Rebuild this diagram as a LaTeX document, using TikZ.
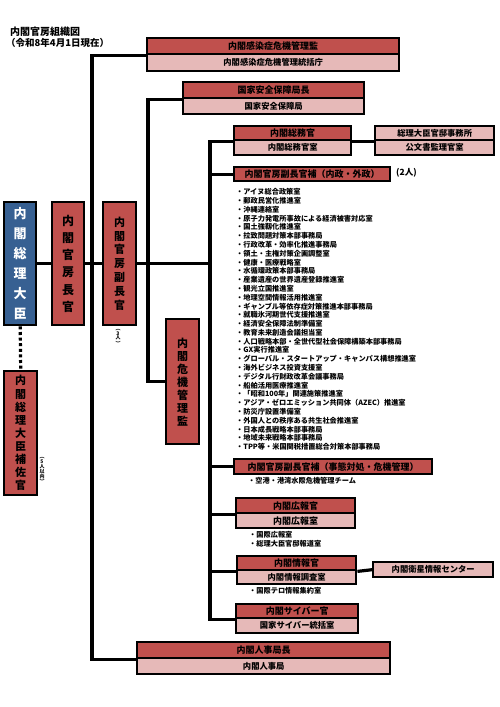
\documentclass[tikz,border=0pt]{standalone}
\usepackage{fontspec}
\setmainfont{Noto Sans CJK JP}
\newcommand\fsz[2]{\fontsize{#1}{#2}\selectfont}
\definecolor{hdrred}{RGB}{192,80,77}
\definecolor{subpink}{RGB}{230,185,184}
\definecolor{pmblue}{RGB}{55,96,146}
\begin{document}
\begin{tikzpicture}[x=1pt,y=-1pt,
  box/.style={draw=black, line width=2.4pt, inner sep=0pt, anchor=north west, font=\bfseries\fsz{9}{9}},
  hdr/.style={box, fill=hdrred},
  sub/.style={box, fill=subpink, font=\bfseries\fsz{8.3}{8.3}},
  vbox/.style={draw=black, line width=2.4pt, fill=hdrred, inner sep=0pt, anchor=north west, align=center},
  conn/.style={line width=3.2pt},
  item/.style={anchor=west, inner sep=0pt, font=\bfseries\fsz{7.2}{7.2}},
  anno/.style={inner sep=0pt, align=center, font=\bfseries\fsz{5}{5}},
  ttl/.style={anchor=west, inner sep=0pt, font=\bfseries\fsz{10}{10}}
]
\useasboundingbox (0,0) rectangle (500,707);
\fill[white] (0,0) rectangle (500,707);

% title
\node[ttl] (title1) at (10,32) {内閣官房組織図};
\node[ttl, font=\bfseries\fsz{9.5}{9.5}] (title2) at (6,43) {（令和8年4月1日現在）};

% helper coordinates for vertical trunks
\coordinate (v1) at (92,0);
\coordinate (v2) at (148,0);
\coordinate (v3) at (210,0);

% left column
\node[vbox, fill=pmblue, text=white, minimum width=32, minimum height=123, font=\bfseries\fsz{13}{20}] (pm) at (3,201) {内\\閣\\総\\理\\大\\臣};
\node[vbox, minimum width=32, minimum height=123, font=\bfseries\fsz{12}{17.3}] (chokan) at (51,201) {内\\閣\\官\\房\\長\\官};
\node[vbox, minimum width=33, minimum height=123, font=\bfseries\fsz{11}{13.9}] (fuku) at (102,201) {内\\閣\\官\\房\\副\\長\\官};
\node[anno, font=\bfseries\fsz{5}{4.4}] (fukuN) at (118,337.5) {︵\\3\\人\\︶};
\node[vbox, minimum width=33, minimum height=125, font=\bfseries\fsz{11}{13}] (kiki) at (165,318) {内\\閣\\危\\機\\管\\理\\監};
\node[vbox, minimum width=33, minimum height=124, font=\bfseries\fsz{11}{13.1}] (hosakan) at (3,370) {内\\閣\\総\\理\\大\\臣\\補\\佐\\官};
\node[anno] (hosakanN) at (42,470) {︵\\5\\人\\以\\内\\︶};

% top boxes
\node[hdr, minimum width=252, minimum height=16] (kansenH) at (146,37) {内閣感染症危機管理監};
\node[sub, minimum width=252, minimum height=17] (kansenS) at (146,53) {内閣感染症危機管理統括庁};
\node[hdr, minimum width=181, minimum height=16] (nssH) at (182,81) {国家安全保障局長};
\node[sub, minimum width=181, minimum height=16] (nssS) at (182,97) {国家安全保障局};
\node[hdr, minimum width=117, minimum height=14] (somuH) at (233,125) {内閣総務官};
\node[sub, minimum width=117, minimum height=15] (somuS) at (233,139) {内閣総務官室};
\node[sub, minimum width=119, minimum height=14] (kantei) at (374,125) {総理大臣官邸事務所};
\node[sub, minimum width=119, minimum height=15] (kobun) at (374,139) {公文書監理官室};
\node[hdr, minimum width=156, minimum height=14] (hosa1) at (233,166) {内閣官房副長官補（内政・外政）};
\node[anchor=west, inner sep=0pt, font=\bfseries\fsz{8.5}{8.5}] (hosa1N) at (396,173) {(2人)};

% list
\foreach \t [count=\i] in {
 {・アイヌ総合政策室},
 {・郵政民営化推進室},
 {・沖縄連絡室},
 {・原子力発電所事故による経済被害対応室},
 {・国土強靱化推進室},
 {・拉致問題対策本部事務局},
 {・行政改革・効率化推進事務局},
 {・領土・主権対策企画調整室},
 {・健康・医療戦略室},
 {・水循環政策本部事務局},
 {・産業遺産の世界遺産登録推進室},
 {・観光立国推進室},
 {・地理空間情報活用推進室},
 {・ギャンブル等依存症対策推進本部事務局},
 {・就職氷河期世代支援推進室},
 {・経済安全保障法制準備室},
 {・教育未来創造会議担当室},
 {・人口戦略本部・全世代型社会保障構築本部事務局},
 {・GX実行推進室},
 {・グローバル・スタートアップ・キャンパス構想推進室},
 {・海外ビジネス投資支援室},
 {・デジタル行財政改革会議事務局},
 {・船舶活用医療推進室},
 {・「昭和100年」関連施策推進室},
 {・アジア・ゼロエミッション共同体（AZEC）推進室},
 {・防災庁設置準備室},
 {・外国人との秩序ある共生社会推進室},
 {・日本成長戦略本部事務局},
 {・地域未来戦略本部事務局},
 {・TPP等・米国関税措置総合対策本部事務局}}
 \node[item] (li\i) at (236,183.21+8.79*\i) {\t};

% lower boxes
\node[hdr, minimum width=198, minimum height=15] (hosa2) at (233,458) {内閣官房副長官補（事態対処・危機管理）};
\node[item] (hosa2i) at (248,481) {・空港・港湾水際危機管理チーム};
\node[hdr, minimum width=119, minimum height=15] (kohoH) at (235,497) {内閣広報官};
\node[sub, minimum width=119, minimum height=15, font=\bfseries\fsz{9}{9}] (kohoS) at (235,512) {内閣広報室};
\node[item] (kohoi1) at (249,535) {・国際広報室};
\node[item] (kohoi2) at (249,544) {・総理大臣官邸報道室};
\node[hdr, minimum width=119, minimum height=14] (johoH) at (236,555) {内閣情報官};
\node[sub, minimum width=119, minimum height=14] (johoS) at (236,569) {内閣情報調査室};
\node[sub, minimum width=120, minimum height=15] (eisei) at (372,561) {内閣衛星情報センター};
\node[item] (johoi) at (249,591) {・国際テロ情報集約室};
\node[hdr, minimum width=122, minimum height=14] (cyberH) at (235,603) {内閣サイバー官};
\node[sub, minimum width=122, minimum height=15] (cyberS) at (235,617) {国家サイバー統括室};
\node[hdr, minimum width=253, minimum height=16] (jinjiH) at (136,641) {内閣人事局長};
\node[sub, minimum width=253, minimum height=16] (jinjiS) at (136,657) {内閣人事局};

% connectors
\draw[conn] (pm.east) -- (chokan.west);
\draw[conn] (chokan.east) -- (fuku.west);
\draw[conn] (fuku.east) -- (fuku.east -| v3);
\draw[line width=3.2pt, dash pattern=on 3pt off 2.6pt] (pm.south) -- (hosakan.north);
\draw[conn] (kansenH.south west) -- (kansenH.south west -| v1) |- (jinjiH.south west);
\draw[conn] (nssH.south west) -- (nssH.south west -| v2) |- (kiki.west);
\draw[conn] (somuH.south west) -- (somuH.south west -| v3) |- (cyberH.south west);
\draw[conn] (somuH.south east) -- (kantei.south west);
\draw[conn] (hosa1.west) -- (hosa1.west -| v3);
\draw[conn] (hosa2.west) -- (hosa2.west -| v3);
\draw[conn] (kohoH.south west) -- (kohoH.south west -| v3);
\draw[conn] (johoH.south west) -- (johoH.south west -| v3);
\draw[conn] (johoH.south east) -- (eisei.west);
\end{tikzpicture}
\end{document}
